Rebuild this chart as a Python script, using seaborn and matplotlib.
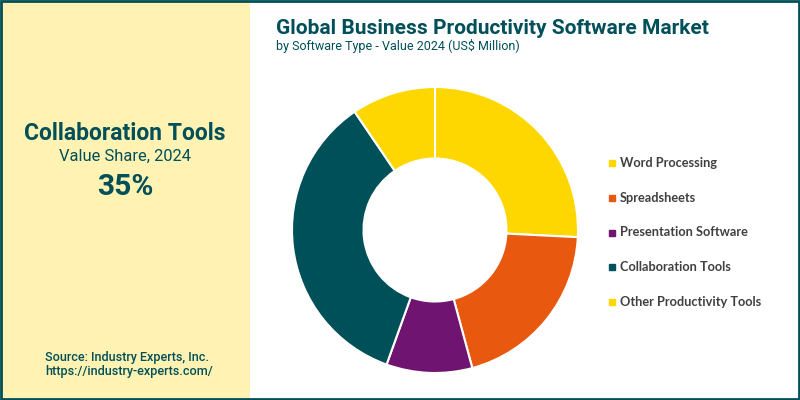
import matplotlib
matplotlib.use("Agg")
import matplotlib.pyplot as plt
import seaborn as sns
from matplotlib.patches import Rectangle
from matplotlib.lines import Line2D

segments = ["Word Processing", "Spreadsheets", "Presentation Software", "Collaboration Tools", "Other Productivity Tools"]
shares = [25.8, 20, 9.7, 35, 9.5]
colors = ["#FFD700", "#E8590F", "#6F1470", "#00505A", "#FFD700"]
title = "Global Business Productivity Software Market"
subtitle = "by Software Type - Value 2024 (US$ Million)"
DARK = "#004F59"

sns.set_theme(style="white")
plt.rcParams['font.family'] = ['Roboto', 'DejaVu Sans']
fig = plt.figure(figsize=(8, 4), dpi=100, facecolor="white")
bg = fig.add_axes([0, 0, 1, 1]); bg.set_xlim(0, 800); bg.set_ylim(400, 0); bg.axis("off")
bg.add_patch(Rectangle((0, 0), 250, 400, fc="#FFF2B2", ec="none"))
bg.add_patch(Rectangle((1, 1), 798, 398, fc="none", ec=DARK, lw=2))
bg.text(125, 134, "Collaboration Tools", ha="center", va="center", fontsize=16.5, fontweight="bold", color=DARK)
bg.text(125, 156, "Value Share, 2024", ha="center", va="center", fontsize=11.9, color=DARK)
bg.text(125, 187, "35%", ha="center", va="center", fontsize=21.5, fontweight="bold", color=DARK)
bg.text(127, 358, "Source: Industry Experts, Inc.", ha="center", va="center", fontsize=9.1, fontweight="medium", color=DARK)
bg.text(129, 372, "https://industry-experts.com/", ha="center", va="center", fontsize=9.1, fontweight="medium", color=DARK)
bg.text(276, 28, title, ha="left", va="center", fontsize=15.0, fontweight="bold", color=DARK)
bg.text(276, 46, subtitle, ha="left", va="center", fontsize=9, color=DARK)

ax = fig.add_axes([290/800, 1-375/400, 290/800, 290/400])
ax.pie(shares, colors=colors, startangle=90, counterclock=False, radius=1.0,
       wedgeprops=dict(width=0.5, edgecolor="white", linewidth=1.5))
ax.set_xlim(-1.014, 1.014); ax.set_ylim(-1.014, 1.014)

ys = [163, 197.5, 232.5, 267, 301.5]
for name, c, y in zip(segments, colors, ys):
    bg.add_line(Line2D([612], [y], marker="s", ms=3.8, color=c, ls="none"))
    bg.text(620, y, name, ha="left", va="center", fontsize=9.2, fontweight="bold", color="#404040", family=['Lato', 'DejaVu Sans'])
fig.savefig("out.png", dpi=100)
